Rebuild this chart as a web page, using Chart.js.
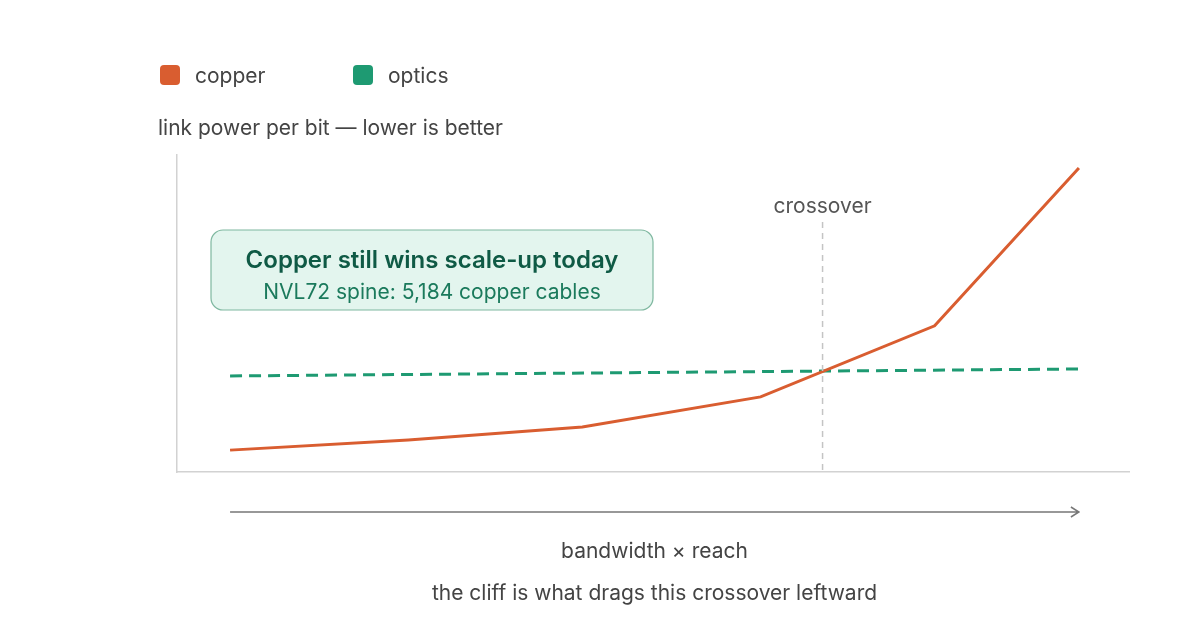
<!DOCTYPE html>
<html lang="en">
<head>
    <meta charset="UTF-8">
    <title>Copper vs optics crossover</title>
    <script src="https://cdn.jsdelivr.net/npm/chart.js"></script>
    <style>
        html, body { margin: 0; padding: 0; background: #fff; }
        #wrap { width: 1200px; height: 624px; }
    </style>
</head>
<body>
    <div id="wrap"><canvas id="crossoverChart" width="1200" height="624"></canvas></div>

    <script>
        // values (x: 0..1 = bandwidth x reach, y: relative power per bit)
        const copperX = [0, 0.21, 0.415, 0.625, 0.83, 1.0];
        const copperY = [6.9, 10.1, 14.2, 23.7, 46.1, 95.9];
        const opticsX = [0, 1.0];
        const opticsY = [30.3, 32.5];
        const crossoverX = 0.698;

        const seriesNames = ['copper', 'optics'];
        const seriesColors = ['#d95d30', '#1e9a72'];

        const FONT = 'Inter, "Noto Sans", sans-serif';

        const toPoints = (xs, ys) => xs.map((x, i) => ({ x: x, y: ys[i] }));

        // legend, annotation box, crossover marker, arrow and captions
        const overlay = {
            id: 'overlay',
            afterDatasetsDraw(chart) {
                const { ctx, chartArea, scales } = chart;
                ctx.save();

                // crossover guide
                const cx = scales.x.getPixelForValue(crossoverX);
                ctx.strokeStyle = '#c4c4c4';
                ctx.lineWidth = 1.5;
                ctx.setLineDash([6, 5]);
                ctx.beginPath();
                ctx.moveTo(cx, 222);
                ctx.lineTo(cx, chartArea.bottom);
                ctx.stroke();
                ctx.setLineDash([]);
                ctx.fillStyle = '#555';
                ctx.font = '21px ' + FONT;
                ctx.textAlign = 'center';
                ctx.textBaseline = 'alphabetic';
                ctx.fillText('crossover', cx, 213);

                // annotation box
                const bx = 211, by = 230, bw = 442, bh = 80;
                ctx.beginPath();
                ctx.roundRect(bx, by, bw, bh, 12);
                ctx.fillStyle = '#e3f5ee';
                ctx.fill();
                ctx.strokeStyle = '#7fb8a0';
                ctx.lineWidth = 1.2;
                ctx.stroke();
                ctx.fillStyle = '#0f5a45';
                ctx.font = '600 24px ' + FONT;
                ctx.fillText('Copper still wins scale-up today', bx + bw / 2, 268);
                ctx.fillStyle = '#1b7a5c';
                ctx.font = '21px ' + FONT;
                ctx.fillText('NVL72 spine: 5,184 copper cables', bx + bw / 2, 299);

                // legend
                const legendX = [160, 353];
                chart.data.datasets.forEach((ds, i) => {
                    ctx.beginPath();
                    ctx.roundRect(legendX[i], 65, 20, 20, 4);
                    ctx.fillStyle = ds.borderColor;
                    ctx.fill();
                    ctx.fillStyle = '#444';
                    ctx.font = '21px ' + FONT;
                    ctx.textAlign = 'left';
                    ctx.fillText(ds.label, legendX[i] + 35, 83);
                });

                // y axis caption
                ctx.fillStyle = '#444';
                ctx.fillText('link power per bit \u2014 lower is better', 158, 135);

                // x direction arrow
                const x0 = scales.x.getPixelForValue(0);
                const x1 = scales.x.getPixelForValue(1);
                const ay = 512;
                ctx.strokeStyle = '#777';
                ctx.lineWidth = 1.5;
                ctx.beginPath();
                ctx.moveTo(x0, ay);
                ctx.lineTo(x1, ay);
                ctx.moveTo(x1 - 8, ay - 5);
                ctx.lineTo(x1, ay);
                ctx.lineTo(x1 - 8, ay + 5);
                ctx.stroke();

                ctx.textAlign = 'center';
                ctx.fillStyle = '#444';
                ctx.fillText('bandwidth \u00d7 reach', (x0 + x1) / 2, 558);
                ctx.fillText('the cliff is what drags this crossover leftward', (x0 + x1) / 2, 600);

                ctx.restore();
            }
        };

        const ctx = document.getElementById('crossoverChart').getContext('2d');
        const chart = new Chart(ctx, {
            type: 'line',
            data: {
                datasets: [{
                    label: seriesNames[0],
                    data: toPoints(copperX, copperY),
                    borderColor: seriesColors[0],
                    backgroundColor: seriesColors[0],
                    borderWidth: 3,
                    pointRadius: 0,
                    tension: 0
                }, {
                    label: seriesNames[1],
                    data: toPoints(opticsX, opticsY),
                    borderColor: seriesColors[1],
                    backgroundColor: seriesColors[1],
                    borderWidth: 3,
                    borderDash: [12, 7],
                    pointRadius: 0,
                    tension: 0
                }]
            },
            options: {
                responsive: false,
                animation: false,
                layout: { padding: { left: 177, right: 71, top: 155, bottom: 152 } },
                plugins: {
                    legend: { display: false },
                    tooltip: { enabled: false }
                },
                scales: {
                    x: {
                        type: 'linear',
                        min: -0.0625,
                        max: 1.059,
                        grid: { display: false, drawTicks: false },
                        ticks: { display: false },
                        border: { display: true, color: '#d2d2d2', width: 1.5 }
                    },
                    y: {
                        min: 0,
                        max: 100,
                        grid: { display: false, drawTicks: false },
                        ticks: { display: false },
                        border: { display: true, color: '#d2d2d2', width: 1.5 }
                    }
                }
            },
            plugins: [overlay]
        });
    </script>
</body>
</html>
